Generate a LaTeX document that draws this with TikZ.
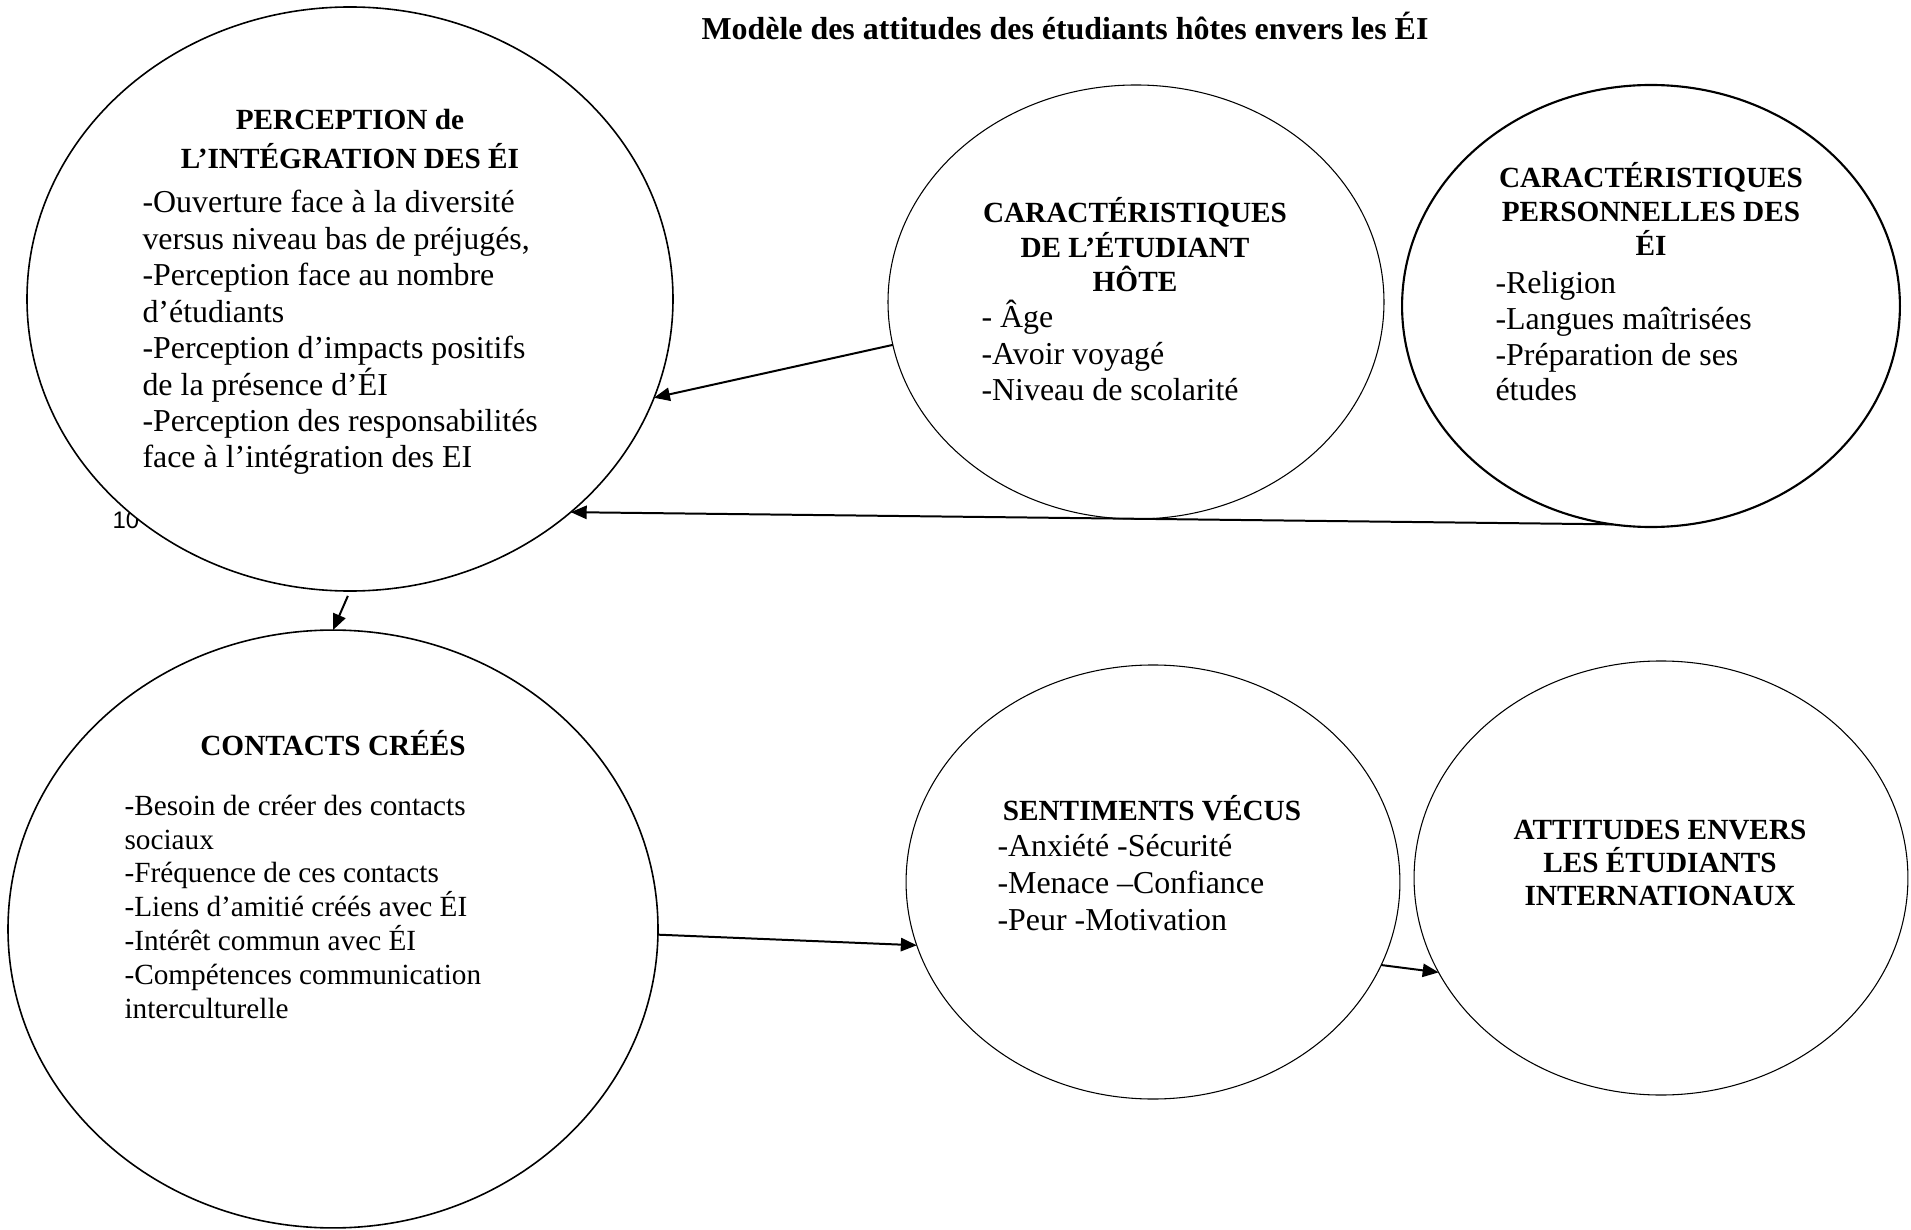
\documentclass[tikz,border=0pt]{standalone}
\usepackage{fontspec}
\setmainfont{Liberation Serif}
\newfontfamily\pagenumfont{Liberation Sans}
\usetikzlibrary{shapes.geometric,arrows.meta}

\begin{document}
\begin{tikzpicture}[x=0.376pt,y=-0.376pt,
  bubble/.style={draw,ellipse,fill=white,inner sep=0pt,outer sep=0pt},
  head/.style={font=\bfseries\fontsize{11}{13}\selectfont,align=center,anchor=base,inner sep=0pt},
  items/.style={font=\fontsize{12}{13.8}\selectfont,align=left,anchor=base west,inner sep=0pt},
  link/.style={line width=0.75pt,-{Triangle[length=6pt,width=5pt]}}]
\fill [white] (0,0) rectangle (1911,1230);
\useasboundingbox (0,0) rectangle (1911,1230);
\node (title) at (1065,40) [anchor=base,inner sep=0pt,font=\bfseries\fontsize{12}{14}\selectfont]
  {Modèle des attitudes des étudiants hôtes envers les ÉI};
\node (pagenum) at (112,528) [anchor=base west,inner sep=0pt,font=\pagenumfont\fontsize{9}{10}\selectfont] {10};
% les ellipses
  \node (perc) at (350,299) [bubble,line width=0.6pt,minimum width=242.9pt,minimum height=219.6pt] {};
  \node (hote) at (1136,302) [bubble,minimum width=186.5pt,minimum height=163.2pt] {};
  \node (perso) at (1651,306) [bubble,line width=0.8pt,minimum width=187.2pt,minimum height=166.2pt] {};
  \node (contacts) at (333,929) [bubble,line width=0.6pt,minimum width=244.4pt,minimum height=224.8pt] {};
  \node (sentiments) at (1153,882) [bubble,minimum width=185.7pt,minimum height=163.2pt] {};
  \node (attitudes) at (1661,878) [bubble,minimum width=185.7pt,minimum height=163.2pt] {};
% les textes (ancrés sur la ligne de base de la dernière ligne)
  \node (perchead) at (350,169) [head,font=\bfseries\fontsize{11}{14.7}\selectfont] {PERCEPTION de\\L’INTÉGRATION DES ÉI};
  \node (percitems) at (142,468) [items,font=\fontsize{12}{13.7}\selectfont] {-Ouverture face à la diversité\\versus niveau bas de préjugés,\\-Perception face au nombre\\d’étudiants\\-Perception d’impacts positifs\\de la présence d’ÉI\\-Perception des responsabilités\\face à l’intégration des EI};
  \node (hotehead) at (1135,292) [head] {CARACTÉRISTIQUES\\DE L’ÉTUDIANT\\HÔTE};
  \node (hoteitems) at (981,401) [items,font=\fontsize{12}{13.9}\selectfont] {- Âge\\-Avoir voyagé\\-Niveau de scolarité};
  \node (persohead) at (1651,256) [head,font=\bfseries\fontsize{11}{12.8}\selectfont] {CARACTÉRISTIQUES\\PERSONNELLES DES\\ÉI};
  \node (persoitems) at (1495,401) [items,font=\fontsize{12}{13.5}\selectfont] {-Religion\\-Langues maîtrisées\\-Préparation de ses\\études};
  \node (contactshead) at (333,755) [head] {CONTACTS CRÉÉS};
  \node (contactsitems) at (124,1018) [items,font=\fontsize{11}{12.7}\selectfont] {-Besoin de créer des contacts\\sociaux\\-Fréquence de ces contacts\\-Liens d’amitié créés avec ÉI\\-Intérêt commun avec ÉI\\-Compétences communication\\interculturelle};
  \node (sentimentshead) at (1152,820) [head] {SENTIMENTS VÉCUS};
  \node (sentimentsitems) at (997,930) [items,font=\fontsize{12}{13.9}\selectfont] {-Anxiété -Sécurité\\-Menace –Confiance\\-Peur -Motivation};
  \node (attitudeshead) at (1660,905) [head,font=\bfseries\fontsize{11}{12.4}\selectfont] {ATTITUDES ENVERS\\LES ÉTUDIANTS\\INTERNATIONAUX};
% les liens
  \draw [link] (hote.190) to (perc.342);
  \draw [link] (perso.260) to (perc.316);
  \draw [link,shorten <=2pt] (perc.south) to (contacts.north);
  \draw [link] (contacts.359) to (sentiments.195);
  \draw [link] (sentiments.340) to (attitudes.203);
\end{tikzpicture}
\end{document}
